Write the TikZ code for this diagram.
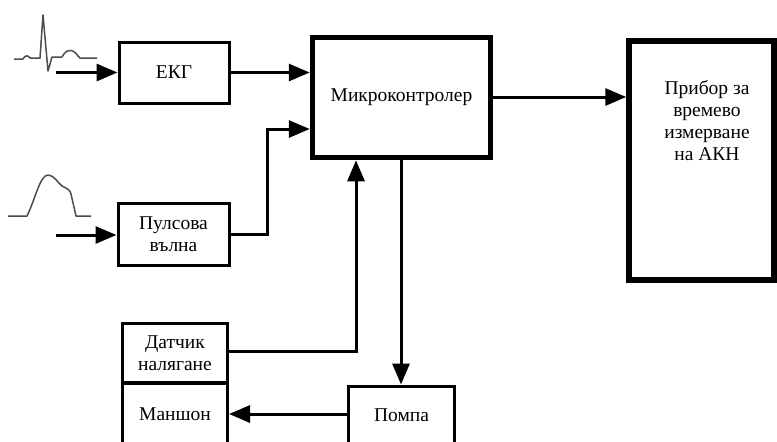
\documentclass[tikz,border=0pt]{standalone}
\usepackage{fontspec}
\setmainfont{Liberation Serif}
\usetikzlibrary{arrows.meta}
\begin{document}
\begin{tikzpicture}[x=1pt,y=-1pt,
  txt/.style={font=\fontsize{19.5}{22}\selectfont},
  box/.style={draw, line width=3pt, minimum width=#1, inner sep=0pt, align=center, txt},
  thickbox/.style={draw, line width=5.5pt, inner sep=0pt, align=center, txt},
  conn/.style={line width=3pt, -{Triangle[length=21pt,width=17pt]}},
  wave/.style={line width=1.5pt, draw=black!70, line join=round}]
\useasboundingbox (0,0) rectangle (777,442);

\node[box=110pt, minimum height=61pt] (ekg) at (174,72.5) {ЕКГ};
\node[box=111pt, minimum height=62pt] (pulse) at (173.5,234) {Пулсова\\вълна};
\node[thickbox, minimum width=178pt, minimum height=120pt] (micro) at (401.5,97.5) {Микроконтролер};
\node[thickbox, minimum width=145pt, minimum height=239pt, anchor=north] (dev) at (701.5,38) {};
\node[txt, align=center, anchor=north] (devtxt) at (707,77) {Прибор за\\времево\\измерване\\на АКН};
\node[box=105pt, minimum height=58.5pt] (sens) at (175,352.75) {Датчик\\налягане};
\node[box=105pt, minimum height=65pt, anchor=north] (cuff) at (175,382) {};
\node[txt] (cufftxt) at (175,414) {Маншон};
\node[box=106pt, minimum height=65pt, anchor=north] (pump) at (401.5,384.5) {};
\node[txt] (pumptxt) at (401.5,415) {Помпа};

\coordinate (ekgin) at (56,72.5);
\coordinate (pulsein) at (56,235);
\coordinate (pulsebend) at (267,234);
\coordinate (pulsetop) at (267,129);
\coordinate (senscorner) at (356,351);

\draw[conn] (ekgin) -- (ekg.west);
\draw[conn] (pulsein) -- (pulsein -| pulse.west);
\draw[conn] (ekg.east) -- (ekg.east -| micro.west);
\draw[conn] (pulse.east |- pulsebend) -- (pulsebend) -- (pulsetop) -- (pulsetop -| micro.west);
\draw[conn] (micro.east |- 0,97) -- (dev.west |- 0,97);
\draw[conn] (sens.east |- senscorner) -- (senscorner) -- (senscorner |- micro.south);
\draw[conn] (micro.south -| 401,0) -- (pump.north -| 401,0);
\draw[conn] (pump.west |- 0,414) -- (cuff.east |- 0,414);

% ECG waveform
\draw[wave] (14,59) -- (23,59) .. controls (25,55) and (28,55) .. (30,58) -- (40,58) -- (43,15) -- (48,71) -- (52,57) -- (62,57)
  .. controls (66,49) and (73,48) .. (78,56) -- (80,58) -- (97,58);
% Pulse waveform
\draw[wave] (8,216) -- (27,216) .. controls (35,200) and (40,175) .. (48,175)
  .. controls (54,175) and (58,183) .. (62,186) .. controls (68,189) and (70,190) .. (71,194)
  -- (76,216) -- (91,216);
\end{tikzpicture}
\end{document}
